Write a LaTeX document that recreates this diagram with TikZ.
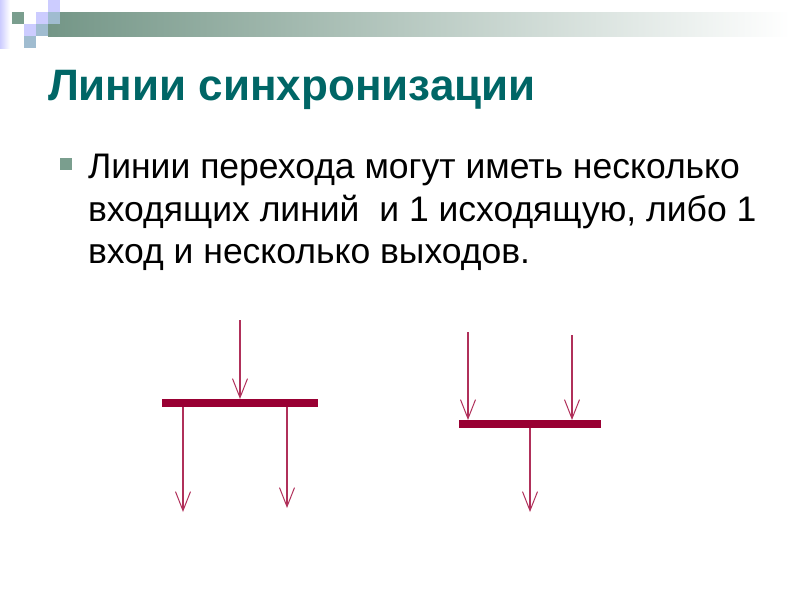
\documentclass[tikz,border=0pt]{standalone}
\usepackage{fontspec}
\setmainfont{Liberation Sans}
\usetikzlibrary{arrows.meta}
\definecolor{titleteal}{RGB}{0,102,102}
\definecolor{sage}{RGB}{122,158,142}
\definecolor{lavend}{RGB}{204,204,255}
\definecolor{paleblue}{RGB}{160,188,208}
\definecolor{barred}{RGB}{153,0,51}
\definecolor{linered}{RGB}{176,48,90}

\begin{document}
\begin{tikzpicture}[x=1pt, y=-1pt,
every node/.style = {inner sep=0pt, outer sep=0pt},
syncbar/.style = {rectangle, fill=barred, minimum height=8pt},
flow/.style = {draw=linered, line width=1.1pt,
	-{Straight Barb[length=19pt, width=15pt, line width=1pt]}},
bodyline/.style = {anchor=base west, font=\fontsize{35.5}{35.5}\selectfont}]
\useasboundingbox (0,0) rectangle (800,600);
% header strip
\shade[left color=lavend, right color=white] (0,0) rectangle (10,48);
\shade[left color=sage!95!black, right color=white] (48,12) rectangle (790,36);
\fill[lavend] (48,0) rectangle (60,12);
\fill[sage] (12,12) rectangle (24,24);
\fill[lavend] (36,12) rectangle (48,24);
\fill[paleblue] (48,12) rectangle (60,24);
\fill[lavend] (24,24) rectangle (36,36);
\fill[paleblue] (36,24) rectangle (48,36);
\fill[paleblue] (24,36) rectangle (36,48);
% title
\node (title) [anchor=base west, text=titleteal, font=\fontsize{44}{44}\selectfont\bfseries]
	at (48,100) {Линии синхронизации};
% bullet text
\fill[sage] (60,158) rectangle (72,170);
\node (l1) [bodyline] at (88,178) {Линии перехода могут иметь несколько};
\node (l2) [bodyline] at (88,221) {входящих линий\ \ и 1 исходящую, либо 1};
\node (l3) [bodyline] at (88,263) {вход и несколько выходов.};
% fork
\node (fork) [syncbar, minimum width=156pt] at (240,403) {};
\coordinate (forkin) at (240,320);
\coordinate (forkout1) at (183,512);
\coordinate (forkout2) at (287,508);
\draw[flow] (forkin) -- (fork.north);
\draw[flow] (fork.south -| forkout1) -- (forkout1);
\draw[flow] (fork.south -| forkout2) -- (forkout2);
% join
\node (join) [syncbar, minimum width=142pt] at (530,424) {};
\coordinate (joinin1) at (468,332);
\coordinate (joinin2) at (572,335);
\coordinate (joinout) at (530,512);
\draw[flow] (joinin1) -- (joinin1 |- join.north);
\draw[flow] (joinin2) -- (joinin2 |- join.north);
\draw[flow] (join.south) -- (joinout);
\end{tikzpicture}
\end{document}
